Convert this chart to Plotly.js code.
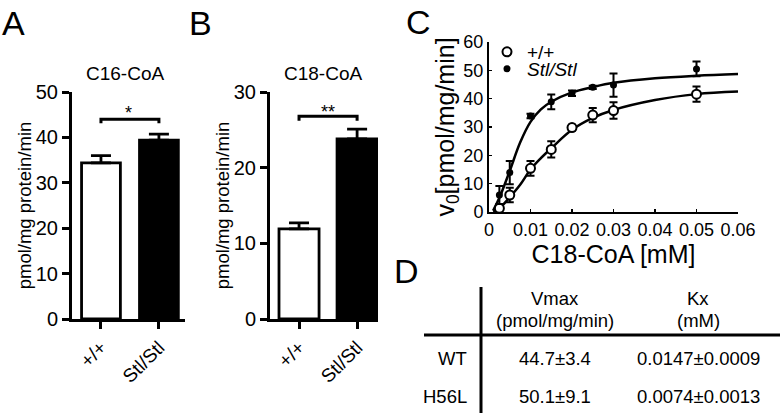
<!DOCTYPE html>
<html><head><meta charset="utf-8">
<script src="https://cdn.plot.ly/plotly-3.0.1.min.js"></script>
<style>html,body{margin:0;padding:0;background:#fff}#chart{width:780px;height:413px}</style>
</head><body><div id="chart"></div>
<script>
// ---- data ----
const genotypes = ['+/+', 'Stl/Stl'];
const c16Rate = [34.4, 39.4];
const c16Sem = [1.6, 1.3];
const c18Rate = [11.9, 23.8];
const c18Sem = [0.8, 1.3];
const c16Bracket = [43.1, 44.0, 44.0, 43.1];
const c18Bracket = [26.2, 26.8, 26.8, 26.2];
const c16Star = '*';
const c18Star = '**';

const concMM = [0.0025, 0.005, 0.01, 0.015, 0.02, 0.025, 0.03, 0.05];
const wtV0 = [1.3, 6.0, 15.4, 22.1, 29.8, 34.2, 35.8, 41.6];
const wtErr = [0.5, 2.6, 2.6, 2.9, 1.0, 2.5, 2.9, 2.7];
const stlV0 = [6.0, 13.9, 33.9, 38.9, 41.9, 44.0, 44.8, 50.5];
const stlErr = [3.2, 4.1, 0.8, 2.6, 1.0, 0.6, 4.1, 2.6];
const fitConc = [0.001, 0.0025, 0.005, 0.0075, 0.01, 0.0125, 0.015, 0.02, 0.025, 0.03, 0.04, 0.05, 0.06];
const wtFit = [0.1, 1.3, 5.2, 9.6, 15.0, 19.0, 22.5, 29.0, 33.2, 36.0, 39.5, 41.6, 42.5];
const stlFit = [0.5, 5.0, 14.5, 24.5, 31.8, 36.2, 38.9, 42.2, 44.1, 45.6, 47.2, 48.1, 48.7];

const tableHeaders = ['Vmax', 'Kx'];
const tableUnits = ['(pmol/mg/min)', '(mM)'];
const tableRows = ['WT', 'H56L'];
const vmaxValues = ['44.7±3.4', '50.1±9.1'];
const kxValues = ['0.0147±0.0009', '0.0074±0.0013'];

// ---- layout helpers (pixel -> paper) ----
const W = 780, H = 413;
const px = x => x / W;
const py = y => 1 - y / H;
const FONT = 'Liberation Sans, Arial, Helvetica, sans-serif';
const K = '#000';

const barAxisY = (range, dtick, title) => ({
  range: range, dtick: dtick, showgrid: false, zeroline: false,
  showline: true, linewidth: 3, linecolor: K,
  ticks: 'outside', ticklen: 7, tickwidth: 3, tickcolor: K,
  tickfont: {size: 20, color: K},
  title: {text: title, font: {size: 18.5, color: K}, standoff: 0},
  fixedrange: true
});
const barAxisX = (domain, range, anchor) => ({
  domain: domain, range: range, type: 'category', anchor: anchor,
  showgrid: false, zeroline: false, showline: true, linewidth: 3, linecolor: K,
  ticks: 'outside', ticklen: 7, tickwidth: 3, tickcolor: K,
  tickangle: -45, tickfont: {size: 19, color: K}, fixedrange: true
});

const traces = [
  // Panel A
  {type: 'bar', x: genotypes, y: c16Rate, xaxis: 'x', yaxis: 'y', width: 0.67,
   marker: {color: ['#fff', '#000'], line: {color: K, width: 2.8}},
   error_y: {type: 'data', symmetric: false, array: c16Sem, arrayminus: [0, 0], color: K, thickness: 2.8, width: 10},
   showlegend: false, hoverinfo: 'skip'},
  {type: 'scatter', mode: 'lines', x: [genotypes[0], genotypes[0], genotypes[1], genotypes[1]], y: c16Bracket,
   xaxis: 'x', yaxis: 'y', line: {color: K, width: 3}, showlegend: false, hoverinfo: 'skip'},
  // Panel B
  {type: 'bar', x: genotypes, y: c18Rate, xaxis: 'x2', yaxis: 'y2', width: 0.69,
   marker: {color: ['#fff', '#000'], line: {color: K, width: 2.8}},
   error_y: {type: 'data', symmetric: false, array: c18Sem, arrayminus: [0, 0], color: K, thickness: 2.8, width: 10},
   showlegend: false, hoverinfo: 'skip'},
  {type: 'scatter', mode: 'lines', x: [genotypes[0], genotypes[0], genotypes[1], genotypes[1]], y: c18Bracket,
   xaxis: 'x2', yaxis: 'y2', line: {color: K, width: 3}, showlegend: false, hoverinfo: 'skip'},
  // Panel C fits
  {type: 'scatter', mode: 'lines', x: fitConc, y: stlFit, xaxis: 'x3', yaxis: 'y3',
   line: {color: K, width: 2.5, shape: 'spline', smoothing: 1}, showlegend: false, hoverinfo: 'skip'},
  {type: 'scatter', mode: 'lines', x: fitConc, y: wtFit, xaxis: 'x3', yaxis: 'y3',
   line: {color: K, width: 2.5, shape: 'spline', smoothing: 1}, showlegend: false, hoverinfo: 'skip'},
  // Panel C data
  {type: 'scatter', mode: 'markers', name: '+/+', x: concMM, y: wtV0, xaxis: 'x3', yaxis: 'y3',
   marker: {symbol: 'circle', size: 9, color: '#fff', line: {color: K, width: 2}},
   error_y: {type: 'data', array: wtErr, color: K, thickness: 2, width: 4},
   legend: 'legend', hoverinfo: 'skip'},
  {type: 'scatter', mode: 'markers', name: '<i>Stl/Stl</i>', x: concMM, y: stlV0, xaxis: 'x3', yaxis: 'y3',
   marker: {symbol: 'circle', size: 7, color: K, line: {color: K, width: 0}},
   error_y: {type: 'data', array: stlErr, color: K, thickness: 2, width: 4},
   legend: 'legend2', hoverinfo: 'skip'}
];

const annotations = [];
const letter = (t, x, y) => annotations.push({text: t, xref: 'paper', yref: 'paper', x: px(x), y: py(y),
  xanchor: 'center', yanchor: 'middle', showarrow: false, font: {size: 34, color: K}});
letter('A', 13, 23); letter('B', 201, 23); letter('C', 418, 22); letter('D', 406, 271);

annotations.push({text: 'C16-CoA', xref: 'paper', yref: 'paper', x: px(125), y: py(74), showarrow: false,
  xanchor: 'center', yanchor: 'middle', font: {size: 19, color: K}});
annotations.push({text: 'C18-CoA', xref: 'paper', yref: 'paper', x: px(323), y: py(74), showarrow: false,
  xanchor: 'center', yanchor: 'middle', font: {size: 19, color: K}});
annotations.push({text: c16Star, xref: 'x', yref: 'y', x: 0.47, y: 45.4, showarrow: false,
  xanchor: 'center', yanchor: 'middle', font: {size: 18, color: K}});
annotations.push({text: c18Star, xref: 'x2', yref: 'y2', x: 0.5, y: 27.4, showarrow: false,
  xanchor: 'center', yanchor: 'middle', font: {size: 18, color: K}});

// Table D
const colX = [555, 698];
const tf = {size: 18.5, color: K};
tableHeaders.forEach((h, i) => {
  annotations.push({text: h, xref: 'paper', yref: 'paper', x: px(colX[i]), y: py(298), showarrow: false,
    xanchor: 'center', yanchor: 'middle', font: tf});
  annotations.push({text: tableUnits[i], xref: 'paper', yref: 'paper', x: px(colX[i]), y: py(320), showarrow: false,
    xanchor: 'center', yanchor: 'middle', font: tf});
});
const rowY = [358, 396];
tableRows.forEach((r, j) => {
  annotations.push({text: r, xref: 'paper', yref: 'paper', x: px(469), y: py(rowY[j]), showarrow: false,
    xanchor: 'right', yanchor: 'middle', font: tf});
  annotations.push({text: vmaxValues[j], xref: 'paper', yref: 'paper', x: px(colX[0]), y: py(rowY[j]), showarrow: false,
    xanchor: 'center', yanchor: 'middle', font: tf});
  annotations.push({text: kxValues[j], xref: 'paper', yref: 'paper', x: px(colX[1]), y: py(rowY[j]), showarrow: false,
    xanchor: 'center', yanchor: 'middle', font: tf});
});

const shapes = [
  {type: 'line', xref: 'paper', yref: 'paper', x0: px(481), x1: px(481), y0: py(287), y1: py(413), line: {color: K, width: 3}},
  {type: 'line', xref: 'paper', yref: 'paper', x0: px(424), x1: px(780), y0: py(335), y1: py(335), line: {color: K, width: 3}}
];

const legendBase = {xanchor: 'left', yanchor: 'top', bgcolor: 'rgba(0,0,0,0)', borderwidth: 0,
  font: {size: 19, color: K}, itemclick: false, itemdoubleclick: false, itemwidth: 30};

const layout = {
  width: W, height: H, margin: {l: 0, r: 0, t: 0, b: 0},
  paper_bgcolor: '#fff', plot_bgcolor: 'rgba(0,0,0,0)',
  font: {family: FONT, color: K},
  showlegend: true, bargap: 0.3,
  xaxis: barAxisX([px(72), px(185)], [-0.5, 1.45], 'y'),
  yaxis: Object.assign(barAxisY([0, 50], 10, 'pmol/mg protein/min'), {domain: [py(319), py(92)], anchor: 'x'}),
  xaxis2: barAxisX([px(270), px(378)], [-0.5, 1.36], 'y2'),
  yaxis2: Object.assign(barAxisY([0, 30], 10, 'pmol/mg protein/min'), {domain: [py(319), py(92)], anchor: 'x2'}),
  xaxis3: {domain: [px(489), px(738)], range: [0, 0.06], dtick: 0.01, anchor: 'y3',
    showgrid: false, zeroline: false, showline: true, linewidth: 2, linecolor: K,
    ticks: 'inside', ticklen: 3, tickwidth: 1.5, tickcolor: K, tickfont: {size: 18, color: K},
    title: {text: 'C18-CoA [mM]', font: {size: 25, color: K}, standoff: 0}, fixedrange: true},
  yaxis3: {domain: [py(212), py(42)], range: [0, 60], dtick: 10, anchor: 'x3',
    showgrid: false, zeroline: false, showline: true, linewidth: 2, linecolor: K,
    ticks: 'inside', ticklen: 3, tickwidth: 1.5, tickcolor: K, tickfont: {size: 18, color: K},
    title: {text: 'v<sub>0</sub>[pmol/mg/min]', font: {size: 25, color: K}, standoff: 2}, fixedrange: true},
  legend: Object.assign({}, legendBase, {x: px(487), y: py(33)}),
  legend2: Object.assign({}, legendBase, {x: px(487), y: py(50)}),
  annotations: annotations,
  shapes: shapes
};

Plotly.newPlot('chart', traces, layout, {displayModeBar: false, staticPlot: true});
</script>
</body></html>
